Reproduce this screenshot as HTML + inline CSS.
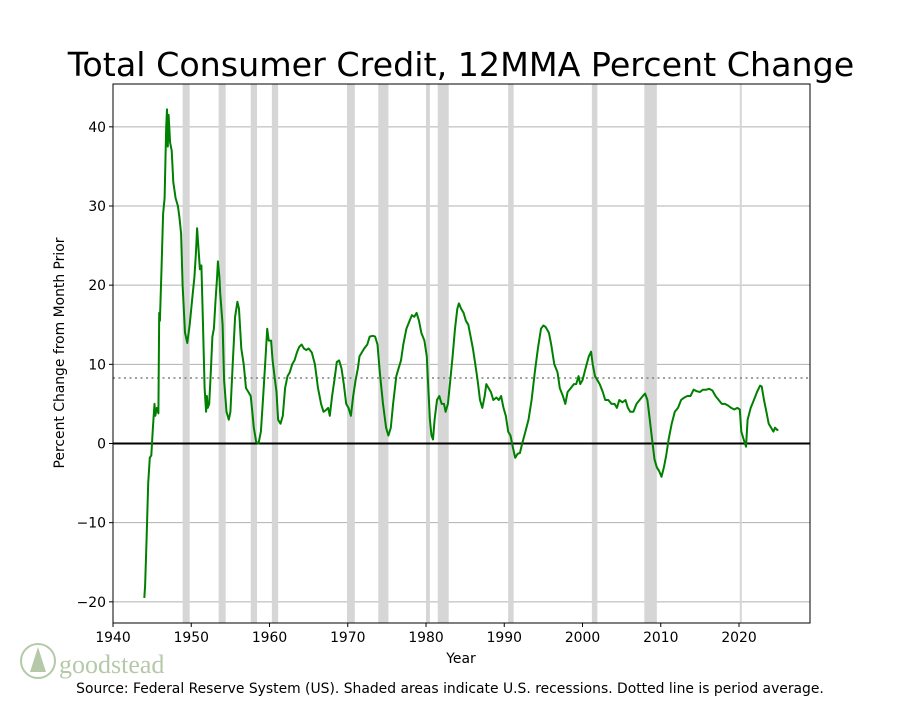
<!DOCTYPE html>
<html><head><meta charset="utf-8"><style>
body{margin:0;background:#fff;}
svg text{font-family:"DejaVu Sans","Liberation Sans",sans-serif;}
</style></head><body>
<svg id="chart" width="900" height="700" xmlns="http://www.w3.org/2000/svg">
<rect width="900" height="700" fill="#fff"/>
<text x="461" y="76" font-size="33.3" text-anchor="middle">Total Consumer Credit, 12MMA Percent Change</text>
<g id="plot"></g>
<text x="461" y="663" font-size="13.9" text-anchor="middle">Year</text>
<text transform="translate(64,353) rotate(-90)" font-size="13.9" text-anchor="middle">Percent Change from Month Prior</text>
<g>
<circle cx="38" cy="661" r="17" fill="none" stroke="#b5c9a8" stroke-width="2"/>
<path d="M38 647 L30 672 L46 672 Z" fill="#b5c9a8"/>
<text x="59" y="673" font-size="26" fill="#b5c9a8" style="font-family:'Liberation Serif',serif">goodstead</text>
</g>
<text x="450" y="693" font-size="13.9" text-anchor="middle">Source: Federal Reserve System (US). Shaded areas indicate U.S. recessions. Dotted line is period average.</text>
</svg>
<script>
const years=[1944.0,1944.1,1944.3,1944.5,1944.7,1944.9,1945.1,1945.3,1945.4,1945.6,1945.8,1945.9,1946.0,1946.2,1946.4,1946.6,1946.8,1946.9,1947.0,1947.1,1947.3,1947.5,1947.7,1948.0,1948.3,1948.5,1948.7,1948.9,1949.2,1949.5,1949.8,1950.1,1950.4,1950.6,1950.75,1950.9,1951.1,1951.3,1951.5,1951.7,1951.9,1952.0,1952.1,1952.3,1952.5,1952.7,1952.9,1953.1,1953.3,1953.4,1953.6,1953.7,1954.0,1954.2,1954.5,1954.8,1955.0,1955.3,1955.6,1955.9,1956.1,1956.4,1956.7,1957.0,1957.3,1957.6,1957.8,1958.0,1958.3,1958.6,1958.9,1959.2,1959.5,1959.7,1959.9,1960.2,1960.4,1960.7,1960.9,1961.1,1961.4,1961.7,1962.0,1962.3,1962.6,1962.9,1963.2,1963.5,1963.8,1964.1,1964.4,1964.7,1965.0,1965.4,1965.8,1966.2,1966.6,1966.9,1967.2,1967.5,1967.7,1968.0,1968.3,1968.6,1968.9,1969.2,1969.5,1969.8,1970.1,1970.4,1970.7,1971.0,1971.3,1971.5,1971.8,1972.1,1972.5,1972.8,1973.2,1973.5,1973.8,1974.1,1974.5,1974.9,1975.2,1975.5,1975.8,1976.2,1976.5,1976.8,1977.1,1977.5,1977.9,1978.2,1978.5,1978.8,1979.1,1979.4,1979.8,1980.1,1980.3,1980.5,1980.7,1980.9,1981.1,1981.4,1981.7,1982.0,1982.3,1982.5,1982.8,1983.1,1983.4,1983.7,1984.0,1984.2,1984.5,1984.8,1985.1,1985.4,1985.7,1986.0,1986.3,1986.6,1986.9,1987.2,1987.5,1987.7,1988.0,1988.3,1988.6,1989.0,1989.3,1989.6,1989.9,1990.2,1990.5,1990.8,1991.1,1991.4,1991.7,1992.0,1992.3,1992.7,1993.1,1993.5,1993.9,1994.3,1994.7,1995.0,1995.3,1995.7,1996.0,1996.4,1996.8,1997.1,1997.5,1997.8,1998.1,1998.5,1998.9,1999.2,1999.5,1999.7,2000.0,2000.4,2000.8,2001.1,2001.3,2001.6,2001.9,2002.2,2002.6,2002.9,2003.3,2003.7,2004.1,2004.4,2004.7,2005.1,2005.5,2005.8,2006.1,2006.5,2006.9,2007.3,2007.7,2008.0,2008.3,2008.6,2008.9,2009.2,2009.5,2009.8,2010.1,2010.4,2010.7,2011.0,2011.4,2011.8,2012.2,2012.6,2013.0,2013.4,2013.8,2014.2,2014.6,2015.0,2015.4,2015.8,2016.2,2016.6,2017.0,2017.4,2017.8,2018.2,2018.6,2019.0,2019.4,2019.8,2020.1,2020.3,2020.6,2020.9,2021.1,2021.5,2021.9,2022.3,2022.7,2022.9,2023.2,2023.5,2023.8,2024.1,2024.4,2024.6,2024.9,2025.0];
const values=[-19.5,-18,-12,-5,-1.8,-1.5,2,5,3.5,4.5,3.8,16.5,15.5,22,29,31,40,42.2,37.5,41.5,38,37,33,31,30,28.5,26.5,20,14,12.7,15,18,21,24,27.2,25,22,22.5,15,7,4,6,4.5,5,9,13.5,14.5,18,21,23,21,19,15,8,4,3,4,10,16,17.9,17,12,10,7,6.5,6,4,2,0.2,0,1.5,6,11,14.5,13,13,10.5,8,6.5,3,2.5,3.5,7,8.5,9,10,10.5,11.5,12.2,12.5,12,11.8,12,11.5,10,7,5,4,4.2,4.5,3.5,6,8,10.3,10.5,9.5,7.5,5,4.5,3.5,6,8,9.5,11,11.5,12,12.5,13.5,13.6,13.5,12.5,9,5,2,1,2,5,8.5,9.5,10.5,12.5,14.5,15.5,16.2,16,16.5,15.5,14,13,11,7,3,1,0.5,3,5.5,6,5,5,4,5,8,11,14.5,17,17.7,17,16.5,15.5,15,13.5,12,10,8,5.5,4.5,6,7.5,7,6.5,5.5,5.8,5.5,6,4.5,3.5,1.5,1,-0.5,-1.8,-1.3,-1.2,0,1.5,3,5.5,9,12,14.5,14.9,14.7,14,12.5,10,9,7,6,5,6.5,7,7.5,7.5,8.5,7.5,8,9.5,11,11.6,10,8.5,8,7.5,6.5,5.5,5.5,5,5,4.5,5.5,5.2,5.5,4.5,4,4,5,5.5,6,6.3,5.5,3,0.5,-2,-3,-3.5,-4.2,-3,-1.5,0.5,2.5,4,4.5,5.5,5.8,6,6,6.8,6.6,6.5,6.8,6.8,6.9,6.7,6,5.5,5,5,4.8,4.5,4.3,4.5,4.3,1.5,0.5,-0.4,3,4.5,5.5,6.5,7.3,7.2,5.5,4,2.5,2,1.5,2,1.7,1.8];
const recStart=[1948.9,1953.5,1957.6,1960.3,1969.9,1973.9,1980.0,1981.5,1990.5,2001.2,2007.9,2020.1];
const recEnd=[1949.8,1954.4,1958.4,1961.1,1970.9,1975.2,1980.5,1982.9,1991.2,2001.9,2009.5,2020.3];
const xTicks=[1940,1950,1960,1970,1980,1990,2000,2010,2020];
const yTicks=[-20,-10,0,10,20,30,40];
const average=8.27;

const L=113,R=810,T=84,B=623;
const x=v=>113+(v-1940)*7.825;
const y=v=>443.5-v*7.917;
const NS='http://www.w3.org/2000/svg';
const g=document.getElementById('plot');
function mk(tag,attrs){const e=document.createElementNS(NS,tag);for(const k in attrs)e.setAttribute(k,attrs[k]);g.appendChild(e);return e;}
yTicks.forEach(t=>{
  const l=mk('line',{x1:L,x2:R,y1:y(t),y2:y(t),stroke:'#b0b0b0','stroke-width':1});
  
  
  const tk=mk('line',{x1:L-4,x2:L,y1:y(t),y2:y(t),stroke:'#000'});
  
  
  const tx=mk('text',{x:L-7,y:y(t)+5,'font-size':13.9,'text-anchor':'end'});
  tx.textContent=t<0?'\u2212'+Math.abs(t):String(t);
  
  
});
recStart.forEach((s,i)=>{
  const r=mk('rect',{x:x(s),y:T,width:Math.max(2,x(recEnd[i])-x(s)),height:B-T,fill:'#d6d6d6'});
  
  
});
const av=mk('line',{x1:L,x2:R,y1:y(average),y2:y(average),stroke:'#808080','stroke-width':1.5,'stroke-dasharray':'2,3.5'});


const z=mk('line',{x1:L,x2:R,y1:y(0),y2:y(0),stroke:'#000','stroke-width':2});


const p=mk('polyline',{points:years.map((v,i)=>x(v).toFixed(1)+','+y(values[i]).toFixed(1)).join(' '),fill:'none',stroke:'#008000','stroke-width':2,'stroke-linejoin':'round'});


xTicks.forEach(t=>{
  const tk=mk('line',{x1:x(t),x2:x(t),y1:B,y2:B+4,stroke:'#000'});
  
  
  const tx=mk('text',{x:x(t),y:B+19,'font-size':13.9,'text-anchor':'middle'});
  tx.textContent=t;
  
  
});
const fr=mk('rect',{x:L,y:T,width:R-L,height:B-T,fill:'none',stroke:'#000','stroke-width':1});


</script>
</body></html>
